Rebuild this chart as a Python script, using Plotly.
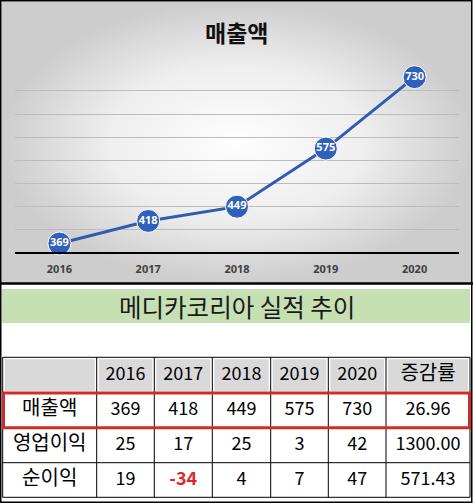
import plotly.graph_objects as go

# ---------------- data ----------------
years = ["2016", "2017", "2018", "2019", "2020"]
revenue = [369, 418, 449, 575, 730]
operating_income = [25, 17, 25, 3, 42]
net_income = [19, -34, 4, 7, 47]
growth_rate = [26.96, 1300.00, 571.43]
row_labels = ["매출액", "영업이익", "순이익"]
growth_header = "증감률"
chart_title = "매출액"
table_title = "메디카코리아 실적 추이"

# ---------------- layout constants (pixels) ----------------
W, H = 473, 503
FONT = "Noto Sans CJK KR"
col_edges = [2.7, 96.7, 154.3, 212.3, 270.7, 328.3, 386.0, 470.0]
row_edges = [357.3, 393.0, 427.7, 462.7, 497.3]
plot_x0, plot_x1 = 15, 459
plot_y0, plot_y1 = 67.7, 252.3

fig = go.Figure()

# background (full-page pixel axes, subplot 1)
fig.add_trace(go.Scatter(
    x=[1.5, 471, 471, 1.5, 1.5], y=[1.5, 1.5, 283, 283, 1.5],
    mode="lines", fill="toself", line=dict(width=0),
    fillgradient=dict(type="radial",
                      colorscale=[[0, "#fefefe"], [0.55, "#eeeeee"], [1, "#cdcdcd"]]),
    hoverinfo="skip", showlegend=False, xaxis="x", yaxis="y"))

# table text
tx, ty, tt, tc, ts = [], [], [], [], []
def cx(i):
    return (col_edges[i] + col_edges[i + 1]) / 2
def cy(j):
    return (row_edges[j] + row_edges[j + 1]) / 2

NUM_SIZE, KOR_SIZE = 18, 20
for i, yr in enumerate(years):
    tx.append(cx(i + 1)); ty.append(cy(0)); tt.append(yr); tc.append("#000000"); ts.append(NUM_SIZE)
tx.append(cx(6)); ty.append(cy(0)); tt.append(growth_header); tc.append("#000000"); ts.append(KOR_SIZE)

series = [revenue, operating_income, net_income]
for r, (lab, vals) in enumerate(zip(row_labels, series)):
    tx.append(cx(0)); ty.append(cy(r + 1)); tt.append(lab); tc.append("#000000"); ts.append(KOR_SIZE)
    for i, v in enumerate(vals):
        tx.append(cx(i + 1)); ty.append(cy(r + 1)); ts.append(NUM_SIZE)
        if v < 0:
            tt.append(f"<b>{v}</b>"); tc.append("#e0262b")
        else:
            tt.append(str(v)); tc.append("#000000")
    tx.append(cx(6)); ty.append(cy(r + 1)); tt.append(f"{growth_rate[r]:.2f}")
    tc.append("#000000"); ts.append(NUM_SIZE)

fig.add_trace(go.Scatter(
    x=tx, y=ty, text=tt, mode="text", textposition="middle center",
    textfont=dict(family=FONT, size=ts, color=tc),
    hoverinfo="skip", showlegend=False, xaxis="x", yaxis="y"))

# line chart (subplot 2)
fig.add_trace(go.Scatter(
    x=years, y=revenue, mode="lines+markers+text",
    text=[str(v) for v in revenue], textposition="middle center",
    textfont=dict(family="Noto Sans", size=11, color="white", weight="bold"),
    line=dict(color="#2f5cb0", width=3),
    marker=dict(size=23, color="#2f60ba", line=dict(color="white", width=1)),
    hoverinfo="skip", showlegend=False, xaxis="x2", yaxis="y2", cliponaxis=False))

shapes = []
# header gray cells
for i in range(7):
    shapes.append(dict(type="rect", xref="x", yref="y", layer="below",
                       x0=col_edges[i] + 2, x1=col_edges[i + 1] - 2,
                       y0=row_edges[0] + 2, y1=row_edges[1] - 2,
                       fillcolor="#d9d9d9", line=dict(width=0)))
# green title bar
shapes.append(dict(type="rect", xref="x", yref="y", layer="below",
                   x0=2, x1=470, y0=289, y1=323,
                   fillcolor="#c6e0b4", line=dict(width=0)))
# table grid
for y in row_edges:
    shapes.append(dict(type="line", xref="x", yref="y", x0=col_edges[0], x1=col_edges[-1],
                       y0=y, y1=y, line=dict(color="black", width=1)))
for x in col_edges:
    shapes.append(dict(type="line", xref="x", yref="y", x0=x, x1=x,
                       y0=row_edges[0], y1=row_edges[-1], line=dict(color="black", width=1)))
# red highlight
shapes.append(dict(type="rect", xref="x", yref="y", x0=3.5, x1=469.5,
                   y0=row_edges[1], y1=row_edges[2],
                   line=dict(color="#d42a2a", width=3)))
# frames
shapes.append(dict(type="rect", xref="x", yref="y", x0=0.75, x1=471.75, y0=0.75, y1=502.25,
                   line=dict(color="black", width=1.5)))
shapes.append(dict(type="line", xref="x", yref="y", x0=0, x1=473, y0=283.5, y1=283.5,
                   line=dict(color="black", width=2.5)))

annotations = [
    dict(xref="x", yref="y", x=236.5, y=32, text=f"<b>{chart_title}</b>", showarrow=False,
         font=dict(family=FONT, size=23, color="#111111"), xanchor="center", yanchor="middle"),
    dict(xref="x", yref="y", x=236.5, y=306, text=table_title, showarrow=False,
         font=dict(family=FONT, size=24.5, color="#1a1a1a"), xanchor="center", yanchor="middle"),
]

fig.update_layout(
    width=W, height=H, margin=dict(l=0, r=0, t=0, b=0),
    paper_bgcolor="white", plot_bgcolor="rgba(0,0,0,0)",
    xaxis=dict(domain=[0, 1], range=[0, W], visible=False, fixedrange=True),
    yaxis=dict(domain=[0, 1], range=[H, 0], visible=False, fixedrange=True),
    xaxis2=dict(domain=[plot_x0 / W, plot_x1 / W], anchor="y2", type="category",
                range=[-0.5, 4.5], showgrid=False, showline=True, linecolor="black",
                linewidth=2, ticks="", ticklabelstandoff=5,
                tickfont=dict(family="Noto Sans", size=11, color="#404040", weight="bold")),
    yaxis2=dict(domain=[1 - plot_y1 / H, 1 - plot_y0 / H], anchor="x2",
                range=[350, 750.5], dtick=50, tick0=350, showgrid=True,
                gridcolor="#bcbcbc", gridwidth=1, showticklabels=False, zeroline=False,
                showline=False),
    shapes=shapes, annotations=annotations, showlegend=False,
)

fig.write_html("out.html")
